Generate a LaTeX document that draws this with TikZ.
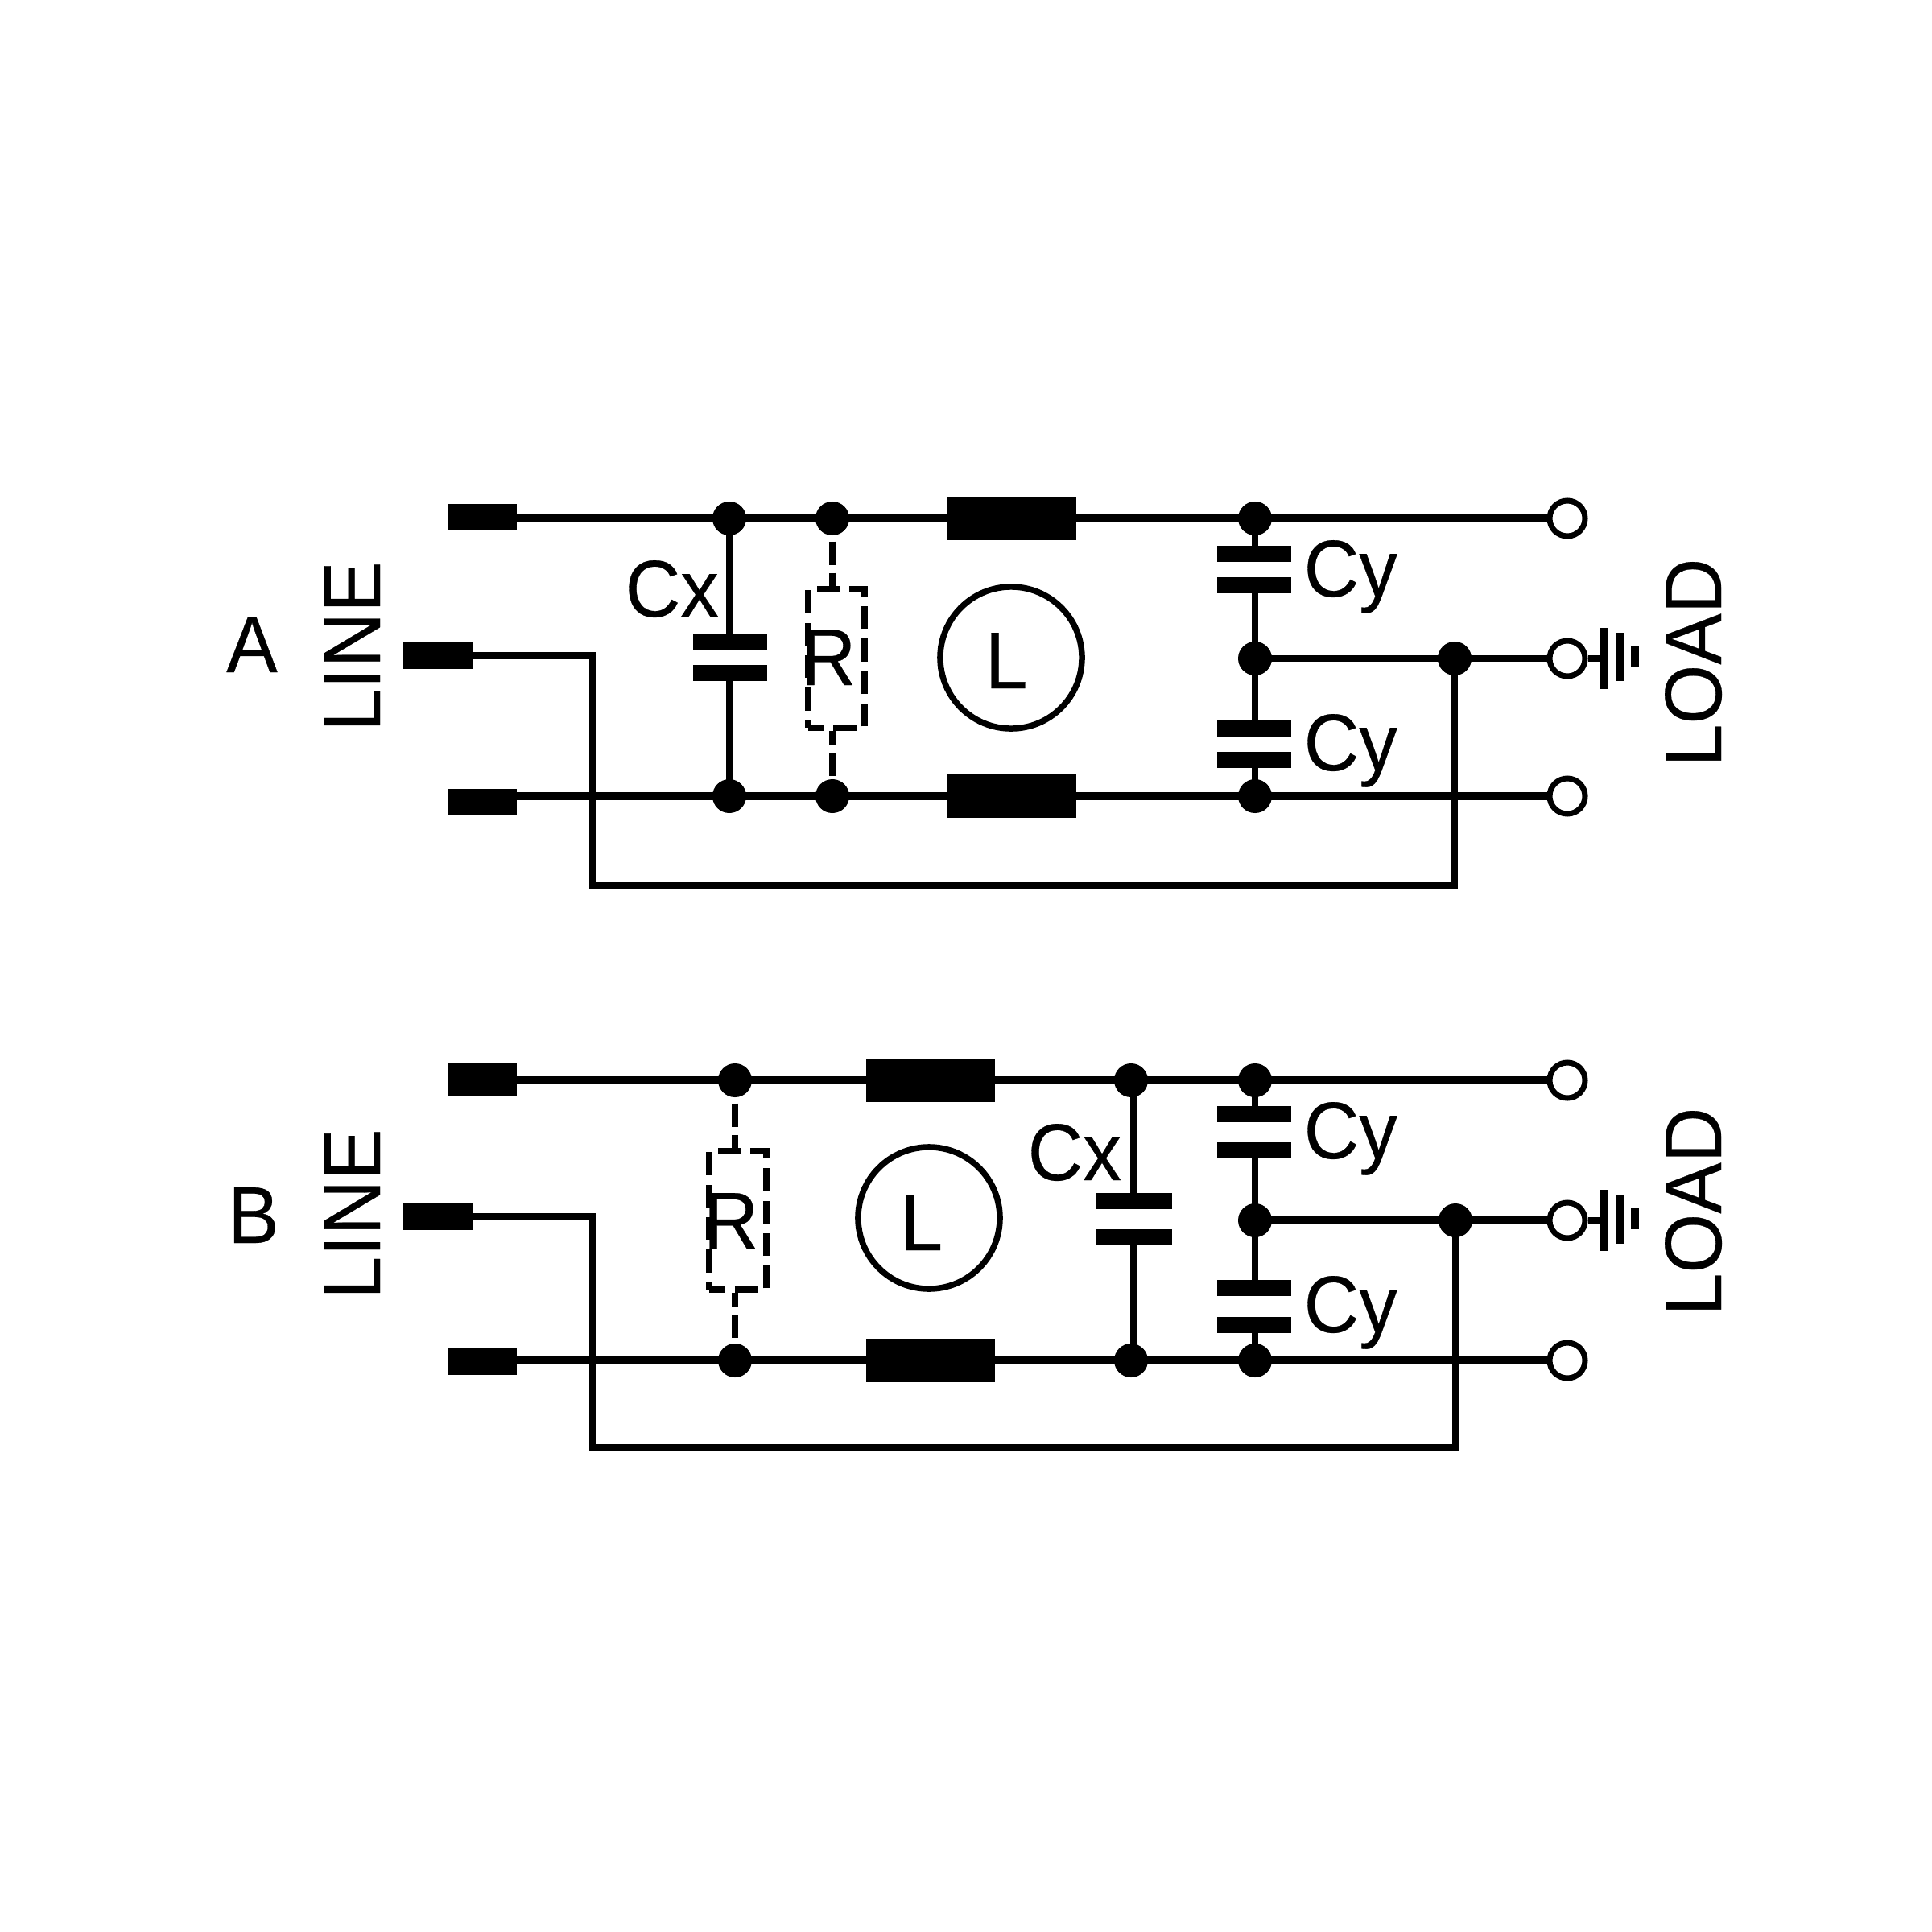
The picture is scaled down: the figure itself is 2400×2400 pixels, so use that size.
\documentclass[tikz,border=0pt]{standalone}
\usepackage{fontspec}
\setmainfont[FakeStretch=0.95, FakeBold=0.3]{Liberation Sans}
\tikzset{
	wire/.style={line width=1mm},
	thinwire/.style={line width=0.85mm},
	dashwire/.style={line width=0.85mm, dash pattern=on 2.9mm off 1mm, dash phase=3.2mm},
	dashback/.style={dashwire, dash phase=1.2mm},
	termbox/.style={rectangle, fill=black, inner sep=0pt, minimum width=8.5mm, minimum height=3.3mm},
	dotnode/.style={circle, fill=black, inner sep=0pt, minimum size=4.2mm},
	opennode/.style={circle, draw, fill=white, line width=0.7mm, inner sep=0pt, minimum size=4.4mm},
	inductorbox/.style={rectangle, fill=black, inner sep=0pt, minimum width=16mm, minimum height=5.4mm},
	plate/.style={rectangle, fill=black, inner sep=0pt, minimum width=9.2mm, minimum height=2mm},
	resbox/.style={rectangle, draw, line width=0.8mm, dash pattern=on 2.83mm off 1.2mm, dash phase=0.9mm, inner sep=0pt, minimum width=7mm, minimum height=17.2mm},
	coilring/.style={circle, draw, line width=0.75mm, inner sep=0pt, minimum size=17.6mm},
	gndbar/.style={rectangle, fill=black, inner sep=0pt, minimum width=1mm},
	lbl/.style={inner sep=0pt, font=\fontsize{28.45}{30}\selectfont},
}
\begin{document}
\begin{tikzpicture}[x=0.01cm, y=-0.01cm]
		\useasboundingbox (0,0) rectangle (2400,2400);
		
		\node[lbl, anchor=base] (titleA) at (313,835) {A};
		\node[lbl, anchor=base, rotate=90] (lineA) at (472,803) {LINE};
		\node[lbl, anchor=base, rotate=90] (loadA) at (2138,823) {LOAD};
		\node[termbox] (termA1) at (599.5,642.5) {};
		\node[termbox] (termA2) at (544,814.5) {};
		\node[termbox] (termA3) at (599.5,996.5) {};
		\node[dotnode] (dotA1) at (906,644) {};
		\node[dotnode] (dotA2) at (1034,644) {};
		\node[dotnode] (dotA3) at (1559,644) {};
		\node[dotnode] (dotA4) at (906,989) {};
		\node[dotnode] (dotA5) at (1034,989) {};
		\node[dotnode] (dotA6) at (1559,989) {};
		\node[dotnode] (dotA7) at (1559,818) {};
		\node[dotnode] (dotA8) at (1807,818) {};
		\node[inductorbox] (indA1) at (1257,644) {};
		\node[inductorbox] (indA2) at (1257,989) {};
		\node[opennode] (openA1) at (1947,644) {};
		\node[opennode] (openA2) at (1947,818) {};
		\node[opennode] (openA3) at (1947,989) {};
		\node[gndbar, minimum height=7.6mm] (gndA1) at (1992,818) {};
		\node[gndbar, minimum height=6mm] (gndA2) at (2012,816) {};
		\node[gndbar, minimum height=2.6mm] (gndA3) at (2031,816) {};
		\node[plate] (cxA1) at (907,796.5) {};
		\node[plate] (cxA2) at (907,836) {};
		\node[lbl, anchor=base west] (cxlblA) at (776,766) {Cx};
		\node[plate] (cyA1) at (1558,688) {};
		\node[plate] (cyA2) at (1558,727) {};
		\node[plate] (cyA3) at (1558,905) {};
		\node[plate] (cyA4) at (1558,944) {};
		\node[lbl, anchor=base west] (cylblA1) at (1619,741) {Cy};
		\node[lbl, anchor=base west] (cylblA2) at (1619,957) {Cy};
		\node[resbox] (resA) at (1039,818) {};
		\node[lbl, anchor=base west] (rlblA) at (994,851) {R};
		\node[coilring] (coilA) at (1256,817) {};
		\node[lbl, anchor=base west] (llblA) at (1223,855) {L};
		\coordinate (loopA) at (736,1100);
		
		\draw[wire] (termA1 |- dotA1) -- (dotA1.center) -- (dotA2.center) -- (indA1.center) -- (dotA3.center) -- (openA1);
		\draw[wire] (termA3 |- dotA4) -- (dotA4.center) -- (dotA5.center) -- (indA2.center) -- (dotA6.center) -- (openA3);
		\draw[thinwire] (termA2.center) -| (loopA) -| (dotA8.center);
		\draw[thinwire] (dotA7.center) -- (dotA8.center) -- (openA2);
		\draw[thinwire] (openA2) -- (gndA1.center);
		\draw[thinwire] (dotA1.center) -- (dotA1 |- cxA1.center);
		\draw[thinwire] (dotA4.center) -- (dotA4 |- cxA2.center);
		\draw[thinwire] (dotA3.center) -- (dotA3 |- cyA1.center);
		\draw[thinwire] (dotA7.center) -- (dotA7 |- cyA2.center);
		\draw[thinwire] (dotA7.center) -- (dotA7 |- cyA3.center);
		\draw[thinwire] (dotA6.center) -- (dotA6 |- cyA4.center);
		\draw[dashwire] (dotA2) -- (dotA2 |- resA.north);
		\draw[dashback] (dotA2 |- resA.south) -- (dotA5);
		
		\node[lbl, anchor=base] (titleB) at (315,1544) {B};
		\node[lbl, anchor=base, rotate=90] (lineB) at (472,1508) {LINE};
		\node[lbl, anchor=base, rotate=90] (loadB) at (2138,1505) {LOAD};
		\node[termbox, minimum height=4mm] (termB1) at (599.5,1341) {};
		\node[termbox] (termB2) at (544,1511) {};
		\node[termbox] (termB3) at (599.5,1691) {};
		\node[dotnode] (dotB1) at (913,1342) {};
		\node[dotnode] (dotB2) at (1405,1342) {};
		\node[dotnode] (dotB3) at (1559,1342) {};
		\node[dotnode] (dotB4) at (913,1690) {};
		\node[dotnode] (dotB5) at (1405,1690) {};
		\node[dotnode] (dotB6) at (1559,1690) {};
		\node[dotnode] (dotB7) at (1559,1516) {};
		\node[dotnode] (dotB8) at (1808,1516) {};
		\node[inductorbox] (indB1) at (1156,1342) {};
		\node[inductorbox] (indB2) at (1156,1690) {};
		\node[opennode] (openB1) at (1947,1342) {};
		\node[opennode] (openB2) at (1947,1516) {};
		\node[opennode] (openB3) at (1947,1690) {};
		\node[gndbar, minimum height=7.6mm] (gndB1) at (1992,1516) {};
		\node[gndbar, minimum height=6mm] (gndB2) at (2012,1514.5) {};
		\node[gndbar, minimum height=2.6mm] (gndB3) at (2031,1514) {};
		\node[plate, minimum width=9.5mm] (cxB1) at (1408.5,1491.5) {};
		\node[plate, minimum width=9.5mm] (cxB2) at (1408.5,1537) {};
		\node[lbl, anchor=base west] (cxlblB) at (1276,1466) {Cx};
		\node[plate] (cyB1) at (1558,1383.5) {};
		\node[plate] (cyB2) at (1558,1429) {};
		\node[plate] (cyB3) at (1558,1600) {};
		\node[plate] (cyB4) at (1558,1646) {};
		\node[lbl, anchor=base west] (cylblB1) at (1619,1439) {Cy};
		\node[lbl, anchor=base west] (cylblB2) at (1619,1655) {Cy};
		\node[resbox] (resB) at (916.5,1516) {};
		\node[lbl, anchor=base west] (rlblB) at (873,1551) {R};
		\node[coilring] (coilB) at (1154,1513) {};
		\node[lbl, anchor=base west] (llblB) at (1117.5,1553) {L};
		\coordinate (loopB) at (736,1798);
		
		\draw[wire] (termB1 |- dotB1) -- (dotB1.center) -- (indB1.center) -- (dotB2.center) -- (dotB3.center) -- (openB1);
		\draw[wire] (termB3 |- dotB4) -- (dotB4.center) -- (indB2.center) -- (dotB5.center) -- (dotB6.center) -- (openB3);
		\draw[thinwire] (termB2.center) -| (loopB) -| (dotB8.center);
		\draw[wire] (dotB7.center) -- (dotB8.center) -- (openB2);
		\draw[thinwire] (openB2) -- (gndB1.center);
		\draw[thinwire] (cxB1 |- dotB2) -- (cxB1.center);
		\draw[thinwire] (cxB2.center) -- (cxB2 |- dotB5);
		\draw[thinwire] (dotB3.center) -- (dotB3 |- cyB1.center);
		\draw[thinwire] (dotB7.center) -- (dotB7 |- cyB2.center);
		\draw[thinwire] (dotB7.center) -- (dotB7 |- cyB3.center);
		\draw[thinwire] (dotB6.center) -- (dotB6 |- cyB4.center);
		\draw[dashwire] (dotB1) -- (dotB1 |- resB.north);
		\draw[dashback] (dotB1 |- resB.south) -- (dotB4);
	\end{tikzpicture}
\end{document}
